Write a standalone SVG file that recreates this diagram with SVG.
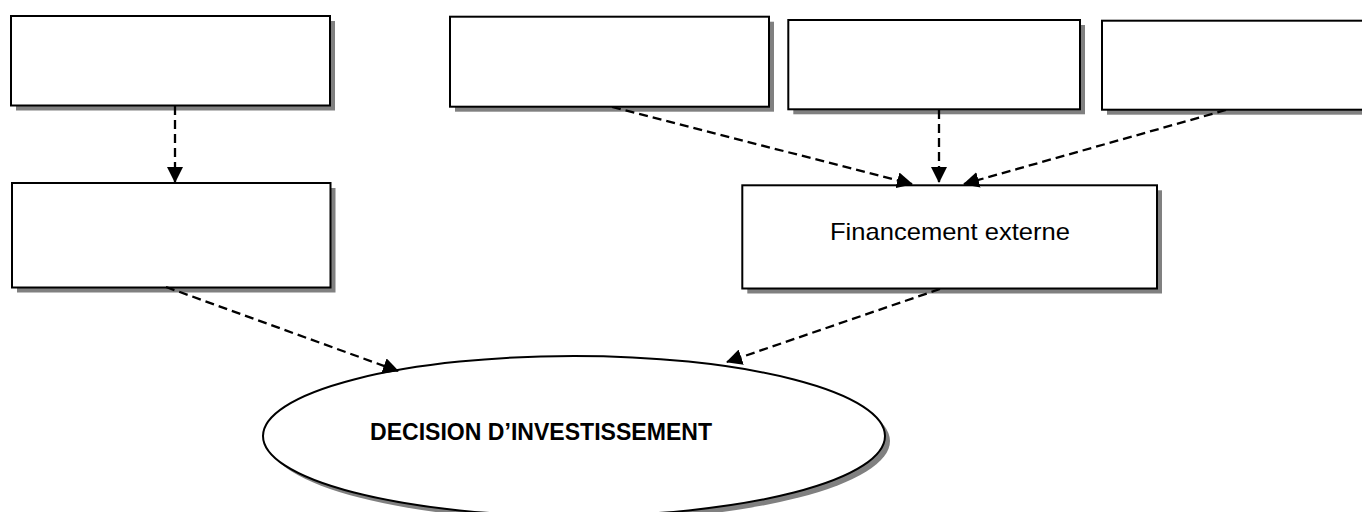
<svg xmlns="http://www.w3.org/2000/svg" width="1362" height="512" viewBox="0 0 1362 512">
  <defs>
    <marker id="arrow" markerUnits="userSpaceOnUse" markerWidth="16" markerHeight="16" viewBox="0 0 16 16" refX="15" refY="8" orient="auto">
      <path d="M0,0 L16,8 L0,16 Z" fill="#000"/>
    </marker>
  </defs>
  <style>
    .shadow { fill: #808080; }
    .box { fill: #fff; stroke: #000; stroke-width: 2; }
    .link { fill: none; stroke: #000; stroke-width: 2.3; stroke-dasharray: 9 5; marker-end: url(#arrow); }
    .label { font-family: "Liberation Sans", Arial, sans-serif; fill: #000; }
  </style>
  <rect width="1362" height="512" fill="#fff"/>

  <g id="box-top-left">
    <rect class="shadow" x="16" y="21" width="319" height="89.5"/>
    <rect class="box" x="11" y="16" width="319" height="89.5"/>
  </g>
  <g id="box-mid-left">
    <rect class="shadow" x="17" y="188" width="318.5" height="104.5"/>
    <rect class="box" x="12" y="183" width="318.5" height="104.5"/>
  </g>
  <g id="box-top-1">
    <rect class="shadow" x="455" y="21.7" width="319" height="90"/>
    <rect class="box" x="450" y="16.7" width="319" height="90"/>
  </g>
  <g id="box-top-2">
    <rect class="shadow" x="793.3" y="25" width="291.7" height="89.3"/>
    <rect class="box" x="788.3" y="20" width="291.7" height="89.3"/>
  </g>
  <g id="box-top-3">
    <rect class="shadow" x="1107" y="25.7" width="270" height="89"/>
    <rect class="box" x="1102" y="20.7" width="270" height="89"/>
  </g>
  <g id="financement-externe">
    <rect class="shadow" x="747.3" y="190.3" width="414.7" height="103.2"/>
    <rect class="box" x="742.3" y="185.3" width="414.7" height="103.2"/>
    <text class="label" x="950" y="239.5" font-size="24" text-anchor="middle" textLength="240" lengthAdjust="spacingAndGlyphs">Financement externe</text>
  </g>
  <g id="decision">
    <ellipse class="shadow" cx="579" cy="441" rx="311" ry="80"/>
    <ellipse class="box" cx="574" cy="436" rx="311" ry="80"/>
    <text class="label" x="370" y="440" font-size="23.3" font-weight="bold" textLength="342" lengthAdjust="spacingAndGlyphs">DECISION D’INVESTISSEMENT</text>
  </g>

  <g id="connectors">
    <line class="link" x1="175" y1="106" x2="175" y2="182"/>
    <line class="link" x1="166" y1="287" x2="398" y2="371"/>
    <line class="link" x1="612" y1="107" x2="912" y2="184"/>
    <line class="link" x1="939" y1="110" x2="939" y2="182"/>
    <line class="link" x1="1226" y1="110" x2="964" y2="184"/>
    <line class="link" x1="940" y1="289" x2="727" y2="362"/>
  </g>
</svg>
